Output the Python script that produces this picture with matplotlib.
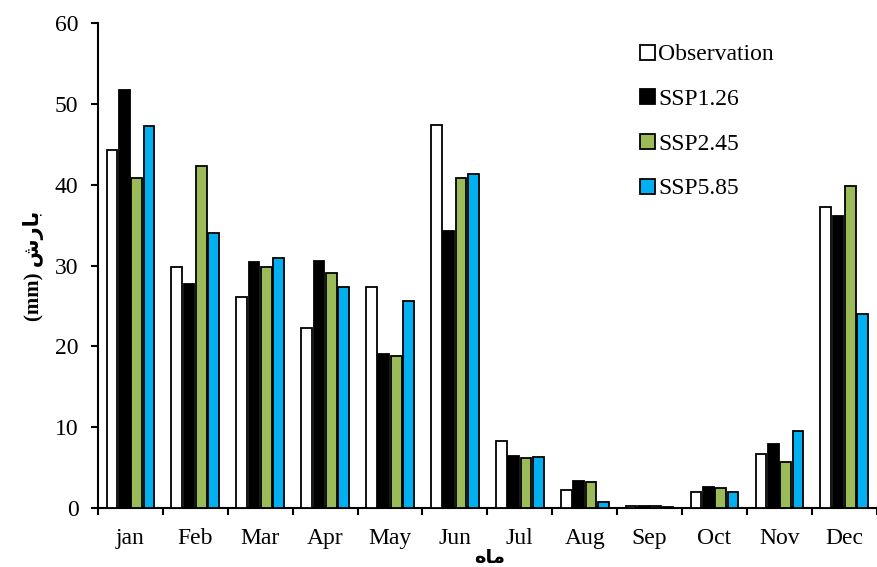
import matplotlib
matplotlib.use("Agg")
import matplotlib.pyplot as plt
import numpy as np

months = ["jan", "Feb", "Mar", "Apr", "May", "Jun", "Jul", "Aug", "Sep", "Oct", "Nov", "Dec"]
series_names = ["Observation", "SSP1.26", "SSP2.45", "SSP5.85"]
obs = [44.3, 29.8, 26.1, 22.3, 27.4, 47.4, 8.3, 2.2, 0.2, 2.0, 6.7, 37.2]
ssp126 = [51.7, 27.7, 30.4, 30.6, 19.1, 34.3, 6.4, 3.3, 0.3, 2.6, 7.9, 36.1]
ssp245 = [40.8, 42.3, 29.8, 29.1, 18.8, 40.8, 6.2, 3.2, 0.2, 2.5, 5.7, 39.8]
ssp585 = [47.3, 34.0, 30.9, 27.4, 25.6, 41.3, 6.3, 0.7, 0.15, 2.0, 9.5, 24.0]
colors = ["white", "black", "#9BBB59", "#00B0F0"]

# Persian labels written in presentation forms (matplotlib does no shaping)
ylab = "(mm) \uFEB5\uFEAD\uFE8E\uFE91"   # بارش (mm)
xlab = "\uFEE9\uFE8E\uFEE3"               # ماه

plt.rcParams['font.family'] = ['Liberation Serif', 'DejaVu Sans']

fig = plt.figure(figsize=(8.77, 5.67), dpi=100)
ax = fig.add_axes([0.1117, 0.104, 0.888, 0.855])

x = np.arange(len(months))
w = 0.165
step = 0.19
data = [obs, ssp126, ssp245, ssp585]
for i, (vals, c, name) in enumerate(zip(data, colors, series_names)):
    ax.bar(x + (i - 1.5) * step, vals, width=w, color=c, edgecolor="black",
           linewidth=1.3, label=name, zorder=3)

ax.set_xlim(-0.5, len(months) - 0.5)
ax.set_ylim(0, 60)
ax.set_yticks(range(0, 61, 10))
ax.set_xticks(x)
ax.set_xticklabels(months)
ax.set_xticks(np.arange(-0.5, len(months), 1.0), minor=True)
ax.tick_params(axis="x", which="major", length=0, labelsize=17, pad=14.5)
ax.tick_params(axis="x", which="minor", length=5, width=1.5, direction="out")
ax.tick_params(axis="y", length=5, width=1.5, labelsize=17, pad=9)

for s in ["top", "right"]:
    ax.spines[s].set_visible(False)
for s in ["left", "bottom"]:
    ax.spines[s].set_linewidth(1.5)

ax.set_ylabel(ylab, fontsize=15, fontweight="bold",
              family=['Liberation Serif', 'DejaVu Sans'], labelpad=8)
ax.set_xlabel(xlab, fontsize=14, fontweight="bold", family=['DejaVu Sans'])
ax.xaxis.set_label_coords(0.503, -0.082)

ax.legend(loc="upper right", bbox_to_anchor=(0.895, 1.0), frameon=False,
          fontsize=17, labelspacing=1.0, handlelength=0.6, handleheight=0.6,
          handletextpad=0.15)

fig.savefig("out.png", dpi=100)
